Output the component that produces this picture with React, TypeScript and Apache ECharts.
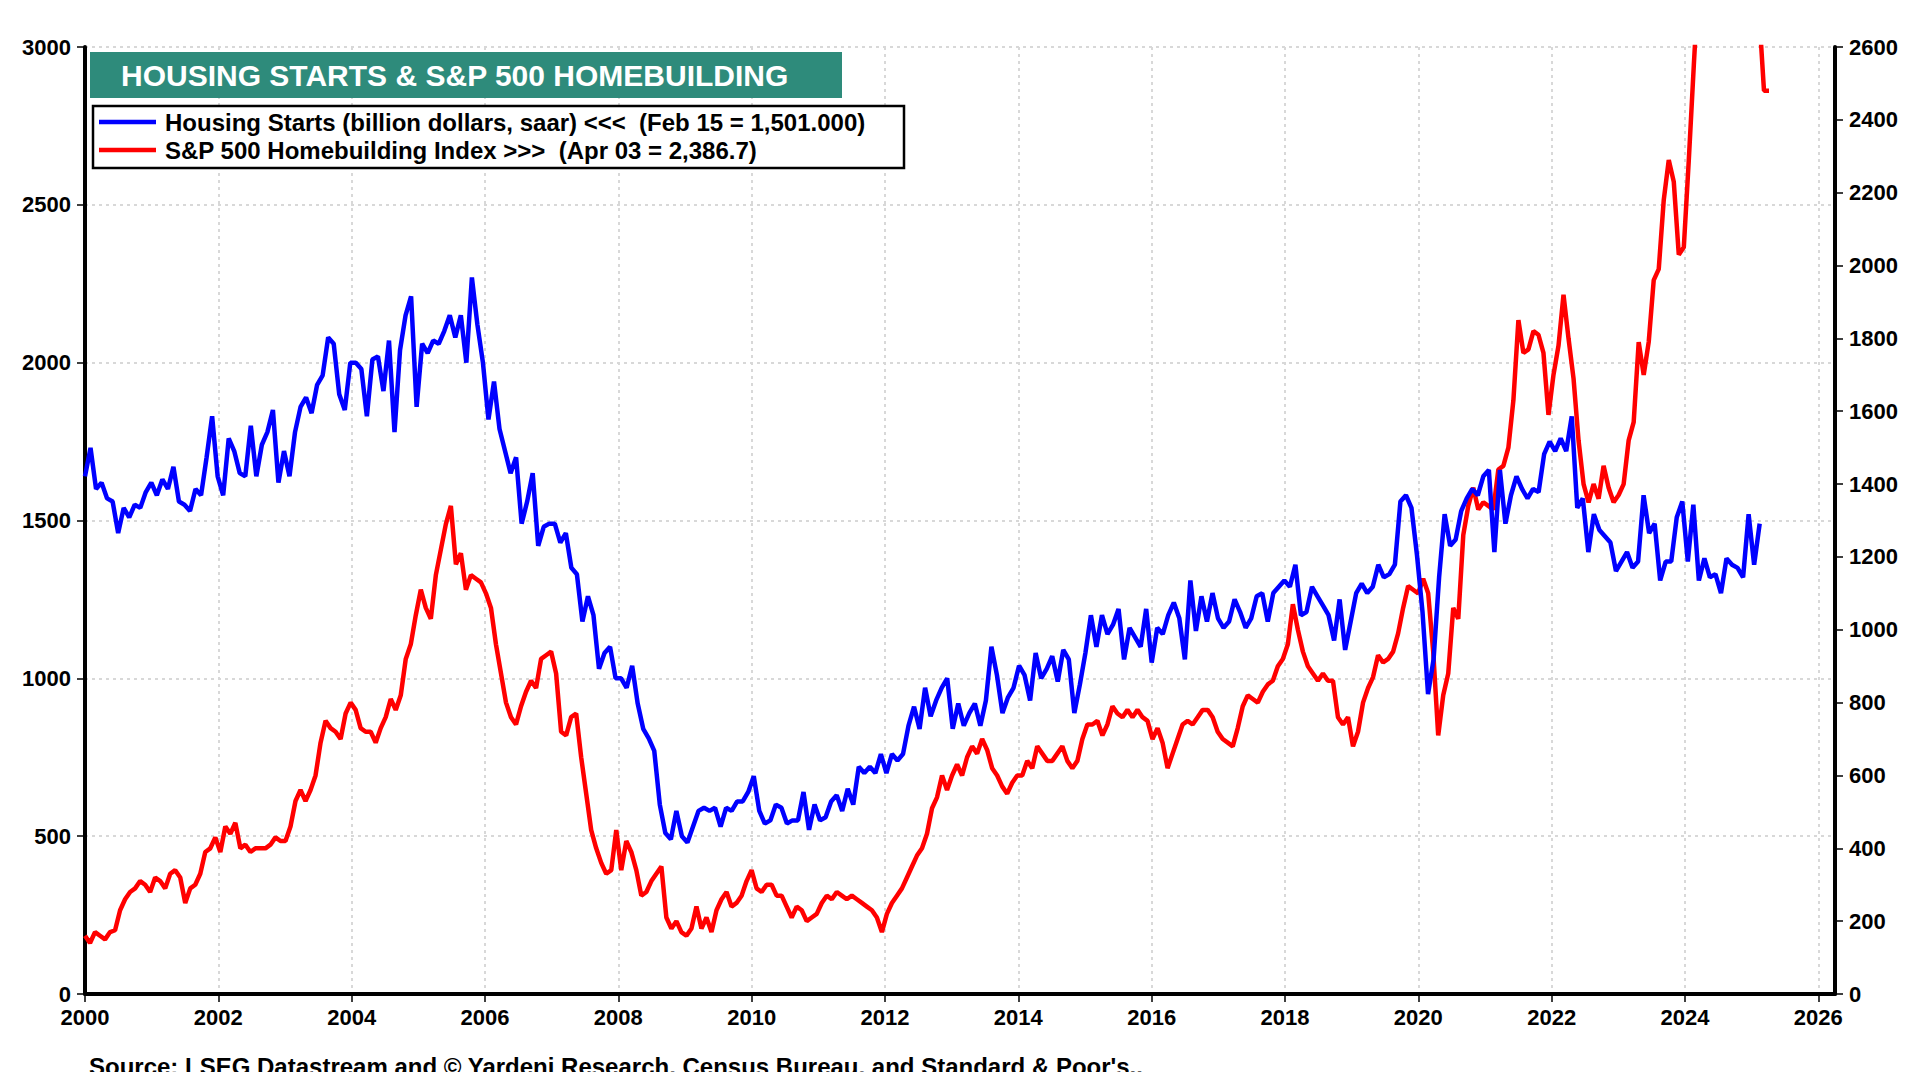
import React, { useEffect, useRef } from "react";
import * as echarts from "echarts";

const housingStarts: number[] = [
1640,1730,1600,1620,1570,1560,1460,1540,1510,1550,1540,1590,1620,1580,1630,1600,1670,1560,1550,1530,1600,1580,1700,1830,1640,1580,1760,1720,1650,1640,1800,1640,1740,1780,1850,1620,1720,1640,1780,1860,1890,1840,1930,1960,2080,2060,1900,1850,2000,2000,1980,1830,2010,2020,1910,2070,1780,2040,2150,2210,1860,2060,2030,2070,2060,2100,2150,2080,2150,2000,2270,2120,2000,1820,1940,1790,1720,1650,1700,1490,1560,1650,1420,1480,1490,1490,1430,1460,1350,1330,1180,1260,1200,1030,1080,1100,1000,1000,970,1040,920,840,810,770,600,510,490,580,500,480,530,580,590,580,590,530,590,580,610,610,640,690,580,540,550,600,590,540,550,550,640,520,600,550,560,610,630,580,650,600,720,700,720,700,760,700,760,740,760,850,910,840,970,880,930,970,1000,840,920,850,890,920,850,930,1100,1010,890,940,970,1040,1010,930,1080,1000,1030,1070,990,1090,1060,890,980,1080,1200,1100,1200,1140,1170,1220,1060,1160,1130,1100,1220,1050,1160,1140,1200,1240,1190,1060,1310,1150,1260,1180,1270,1190,1160,1180,1250,1210,1160,1190,1260,1270,1180,1270,1290,1310,1290,1360,1200,1210,1290,1260,1230,1200,1120,1250,1090,1180,1270,1300,1270,1290,1360,1320,1330,1360,1560,1580,1540,1390,1210,950,1060,1320,1520,1420,1440,1530,1570,1600,1580,1640,1660,1400,1660,1490,1580,1640,1600,1570,1600,1590,1710,1750,1720,1760,1720,1830,1540,1570,1400,1520,1470,1450,1430,1340,1370,1400,1350,1370,1580,1460,1490,1310,1370,1370,1510,1560,1370,1550,1310,1380,1320,1330,1270,1380,1360,1350,1320,1520,1360,1490
];
const housingStart = 2000.0;
const housingEnd = 2025.12;

const homebuilding: number[] = [
160,140,170,160,150,170,175,230,260,280,290,310,300,280,320,310,290,330,340,320,250,290,300,330,390,400,430,390,460,440,470,400,410,390,400,400,400,410,430,420,420,460,530,560,530,560,600,690,750,730,720,700,770,800,780,730,720,720,690,730,760,810,780,820,920,960,1040,1110,1060,1030,1150,1220,1290,1340,1180,1210,1110,1150,1140,1130,1100,1060,960,880,800,760,740,790,830,860,840,920,930,940,880,720,710,760,770,650,550,450,400,360,330,340,450,340,420,390,340,270,280,310,330,350,210,180,200,170,160,180,240,180,210,170,230,260,280,240,250,270,310,340,290,280,300,300,270,270,240,210,240,230,200,210,220,250,270,260,280,270,260,270,260,250,240,230,210,170,220,250,270,290,320,350,380,400,440,510,540,600,560,600,630,600,650,680,660,700,670,620,600,570,550,580,600,600,640,620,680,660,640,640,660,680,640,620,640,700,740,740,750,710,740,790,770,760,780,760,780,760,750,700,730,690,620,660,700,740,750,740,760,780,780,760,720,700,690,680,730,790,820,810,800,830,850,860,900,920,960,1070,1000,940,900,880,860,880,860,860,760,740,760,680,720,800,840,870,930,910,920,940,990,1060,1120,1110,1100,1140,1100,940,710,820,880,1060,1030,1260,1340,1390,1330,1350,1340,1330,1440,1450,1500,1630,1850,1760,1770,1820,1810,1760,1590,1700,1780,1920,1800,1690,1520,1400,1350,1400,1360,1450,1390,1350,1370,1400,1520,1570,1790,1700,1790,1960,1990,2180,2290,2230,2030,2050,2290,2550,2800,2950,3050,3000,2950,3000,3050,2950,2900,2850,2800,2750,2700,2480,2480
];
const homebuildingStart = 2000.0;
const homebuildingEnd = 2025.26;

const leftTicks = [0, 500, 1000, 1500, 2000, 2500, 3000];
const rightTicks = [0, 200, 400, 600, 800, 1000, 1200, 1400, 1600, 1800, 2000, 2200, 2400, 2600];

const titleText = "HOUSING STARTS & S&P 500 HOMEBUILDING";
const legendBlue = "Housing Starts (billion dollars, saar) <<<  (Feb 15 = 1,501.000)";
const legendRed = "S&P 500 Homebuilding Index >>>  (Apr 03 = 2,386.7)";
const sourceText = "Source: LSEG Datastream and \u00A9 Yardeni Research, Census Bureau, and Standard & Poor's..";

function spread(vals: number[], a: number, b: number) {
  const n = vals.length;
  return vals.map((v, i) => [a + ((b - a) * i) / (n - 1), v]);
}

const FONT = "Liberation Sans, Arial, sans-serif";

export default function App() {
  const ref = useRef<HTMLDivElement>(null);
  useEffect(() => {
    const chart = echarts.init(ref.current!, null, { renderer: "svg" });
    const label = { color: "#000", fontWeight: "bold" as const, fontSize: 22, fontFamily: FONT };
    const grid = { show: true, lineStyle: { color: "#d8d8d8", type: [3, 4], width: 2 } };
    chart.setOption({
      animation: false,
      backgroundColor: "#fff",
      grid: { left: 85, right: 85, top: 47, bottom: 86 },
      xAxis: {
        type: "value", min: 2000, max: 2026.25, interval: 2,
        axisLine: { show: true, lineStyle: { color: "#000", width: 4 } },
        axisTick: { show: true, length: 8, lineStyle: { color: "#000", width: 1.5 } },
        axisLabel: { ...label, margin: 12, showMaxLabel: false, formatter: (v: number) => (v % 2 === 0 ? String(v) : "") },
        splitLine: grid,
      },
      yAxis: [
        {
          type: "value", min: leftTicks[0], max: leftTicks[leftTicks.length - 1], interval: 500, position: "left",
          axisLine: { show: true, lineStyle: { color: "#000", width: 4 } },
          axisTick: { show: true, length: 8, lineStyle: { color: "#000", width: 1.5 } },
          axisLabel: { ...label, margin: 14, formatter: (v: number) => String(v) },
          splitLine: grid,
        },
        {
          type: "value", min: rightTicks[0], max: rightTicks[rightTicks.length - 1], interval: 200, position: "right",
          axisLine: { show: true, lineStyle: { color: "#000", width: 4 } },
          axisTick: { show: true, length: 8, lineStyle: { color: "#000", width: 1.5 } },
          axisLabel: { ...label, margin: 14, formatter: (v: number) => String(v) },
          splitLine: { show: false },
        },
      ],
      series: [
        {
          type: "line", yAxisIndex: 0, showSymbol: false, clip: true,
          data: spread(housingStarts, housingStart, housingEnd),
          lineStyle: { color: "#0000ff", width: 4.5 }, itemStyle: { color: "#0000ff" }, z: 3,
        },
        {
          type: "line", yAxisIndex: 1, showSymbol: false, clip: true,
          data: spread(homebuilding, homebuildingStart, homebuildingEnd),
          lineStyle: { color: "#ff0000", width: 4.5 }, itemStyle: { color: "#ff0000" }, z: 2,
        },
      ],
      graphic: [
        { type: "rect", z: 10, shape: { x: 90, y: 52, width: 752, height: 46 }, style: { fill: "#2e8b7b" } },
        { type: "text", z: 11, x: 121, y: 75, style: { text: titleText, fill: "#fff", font: `bold 30px ${FONT}`, textVerticalAlign: "middle" } },
        { type: "rect", z: 10, shape: { x: 93, y: 106, width: 811, height: 62 }, style: { fill: "#fff", stroke: "#000", lineWidth: 2.5 } },
        { type: "line", z: 11, shape: { x1: 99, y1: 122, x2: 156, y2: 122 }, style: { stroke: "#0000ff", lineWidth: 4.5 } },
        { type: "line", z: 11, shape: { x1: 99, y1: 150, x2: 156, y2: 150 }, style: { stroke: "#ff0000", lineWidth: 4.5 } },
        { type: "text", z: 11, x: 165, y: 122, style: { text: legendBlue, fill: "#000", font: `bold 24px ${FONT}`, textVerticalAlign: "middle" } },
        { type: "text", z: 11, x: 165, y: 150, style: { text: legendRed, fill: "#000", font: `bold 24px ${FONT}`, textVerticalAlign: "middle" } },
        { type: "text", z: 11, x: 89, y: 1066, style: { text: sourceText, fill: "#000", font: `bold 24px ${FONT}`, textVerticalAlign: "middle" } },
      ],
    });
    return () => chart.dispose();
  }, []);
  return <div ref={ref} style={{ width: 1920, height: 1080, margin: -8 }} />;
}
